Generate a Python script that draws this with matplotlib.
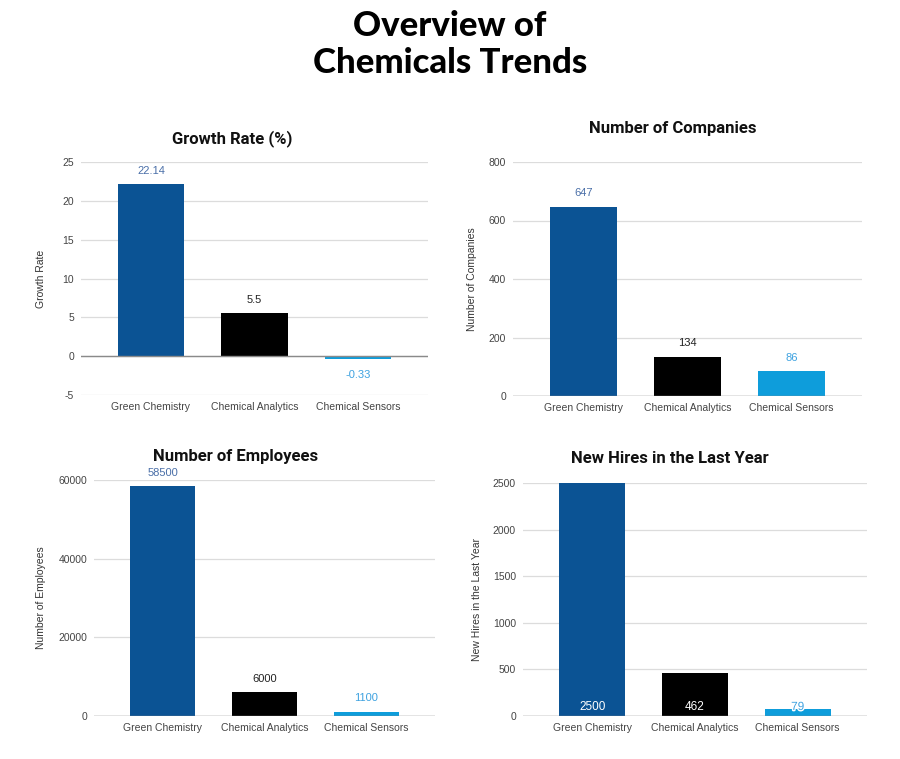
import matplotlib.pyplot as plt
import matplotlib.patheffects as pe

# data
categories = ["Green Chemistry", "Chemical Analytics", "Chemical Sensors"]
growth_rate = [22.14, 5.5, -0.33]
companies = [647, 134, 86]
employees = [58500, 6000, 1100]
new_hires = [2500, 462, 79]

bar_colors = ["#0b5394", "#000000", "#0e9ddb"]
label_colors = ["#4a6fa8", "#222222", "#3ea2e0"]

plt.rcParams['font.family'] = ['Liberation Sans', 'DejaVu Sans']
plt.rcParams['axes.unicode_minus'] = False

fig = plt.figure(figsize=(9, 7.59), dpi=100)

W, H = 900, 759

def px_axes(left, right, top, bottom):
    return fig.add_axes([left / W, 1 - bottom / H, (right - left) / W, (bottom - top) / H])

def style_axes(ax, yticks, ylim):
    ax.set_xlim(-0.675, 2.675)
    ax.set_ylim(*ylim)
    ax.set_yticks(yticks)
    ax.set_xticks(range(len(categories)))
    ax.set_xticklabels(categories)
    ax.grid(axis='y', color='#dcdcdc', linewidth=0.9)
    ax.set_axisbelow(True)
    for s in ['top', 'right', 'left', 'bottom']:
        ax.spines[s].set_visible(False)
    ax.axhline(0, color='#8a8a8a', linewidth=1.0, zorder=3)
    ax.tick_params(axis='both', length=0, labelsize=7.5, labelcolor='#444444')
    ax.tick_params(axis='x', pad=5)
    ax.tick_params(axis='y', pad=5)

def add_title(ax, text, x, dy):
    bb = ax.get_position()
    ax.text(x, 1 + dy / (bb.height * H), text, transform=ax.transAxes,
            ha='center', va='center', fontsize=12, fontweight='bold',
            family=['Roboto', 'DejaVu Sans'], color='#111111')

def add_ylabel(ax, text, dist):
    bb = ax.get_position()
    ax.set_ylabel(text, fontsize=7.5, color='#333333')
    ax.yaxis.set_label_coords(-dist / (bb.width * W), 0.5)

# Growth rate
ax1 = px_axes(81, 428, 162, 395)
style_axes(ax1, [-5, 0, 5, 10, 15, 20, 25], (-5, 25))
ax1.bar(range(3), growth_rate, width=0.64, color=bar_colors, zorder=2)
for i, v in enumerate(growth_rate):
    off = 6 if v >= 0 else -8
    ax1.annotate(f"{v:g}", (i, v), xytext=(0, off), textcoords='offset points',
                 ha='center', va='bottom' if v >= 0 else 'top',
                 fontsize=8, color=label_colors[i])
add_title(ax1, "Growth Rate (%)", 0.435, 23)
add_ylabel(ax1, "Growth Rate", 35)

# Companies
ax2 = px_axes(513, 862, 162, 396)
style_axes(ax2, [0, 200, 400, 600, 800], (0, 800))
ax2.bar(range(3), companies, width=0.64, color=bar_colors, zorder=2)
for i, v in enumerate(companies):
    ax2.annotate(f"{v}", (i, v), xytext=(0, 6), textcoords='offset points',
                 ha='center', va='bottom', fontsize=8, color=label_colors[i])
add_title(ax2, "Number of Companies", 0.457, 34)
add_ylabel(ax2, "Number of Companies", 36)

# Employees
ax3 = px_axes(94, 435, 480, 716)
style_axes(ax3, [0, 20000, 40000, 60000], (0, 60000))
ax3.bar(range(3), employees, width=0.64, color=bar_colors, zorder=2)
for i, v in enumerate(employees):
    ax3.annotate(f"{v}", (i, v), xytext=(0, 6), textcoords='offset points',
                 ha='center', va='bottom', fontsize=8, color=label_colors[i])
add_title(ax3, "Number of Employees", 0.415, 23)
add_ylabel(ax3, "Number of Employees", 48)

# New hires
ax4 = px_axes(523, 867, 483, 716)
style_axes(ax4, [0, 500, 1000, 1500, 2000, 2500], (0, 2500))
ax4.bar(range(3), new_hires, width=0.64, color=bar_colors, zorder=2)
inside_colors = ["#ffffff", "#ffffff", "#3ea2e0"]
for i, v in enumerate(new_hires):
    t = ax4.annotate(f"{v}", (i, 0), xytext=(0, 6.5), textcoords='offset points',
                     ha='center', va='center', fontsize=8.5, color=inside_colors[i],
                     zorder=5)
    if i == 2:
        t.set_path_effects([pe.withStroke(linewidth=2, foreground='white')])
add_title(ax4, "New Hires in the Last Year", 0.426, 25)
add_ylabel(ax4, "New Hires in the Last Year", 41)

fig.text(0.5, 1 - 26 / H, "Overview of", ha='center', va='center',
         fontsize=25, fontweight='black', family=['Lato', 'DejaVu Sans'])
fig.text(0.5, 1 - 63 / H, "Chemicals Trends", ha='center', va='center',
         fontsize=25, fontweight='black', family=['Lato', 'DejaVu Sans'])

fig.savefig("out.png", dpi=100, facecolor='white')
